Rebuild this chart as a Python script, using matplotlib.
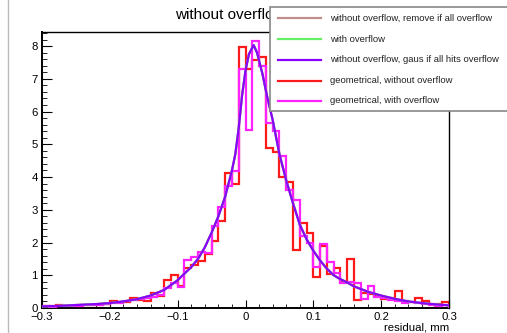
import numpy as np
import matplotlib.pyplot as plt
from matplotlib.patches import Rectangle
from matplotlib.lines import Line2D
from matplotlib.ticker import MultipleLocator

plt.rcParams['font.family'] = ['Liberation Sans', 'DejaVu Sans']

# histogram bins: 60 bins of 0.01 from -0.3 to 0.3
edges = np.linspace(-0.3, 0.3, 61)

geo_no_ovf = [0.05, 0.05, 0.10, 0.07, 0.06, 0.10, 0.08, 0.08, 0.10, 0.12,
              0.22, 0.17, 0.17, 0.32, 0.25, 0.20, 0.46, 0.36, 0.87, 1.00,
              0.66, 1.22, 1.31, 1.45, 1.65, 2.04, 2.66, 4.13, 3.80, 7.96,
              7.29, 7.57, 7.66, 4.88, 4.77, 4.00, 3.86, 1.76, 2.60, 2.29,
              0.94, 1.90, 1.04, 1.21, 0.80, 1.49, 0.25, 0.45, 0.42, 0.38,
              0.28, 0.30, 0.52, 0.20, 0.17, 0.30, 0.20, 0.12, 0.13, 0.17]

geo_ovf = [0.05, 0.04, 0.05, 0.06, 0.07, 0.07, 0.08, 0.09, 0.10, 0.13,
           0.15, 0.15, 0.20, 0.25, 0.28, 0.30, 0.35, 0.40, 0.60, 0.77,
           0.65, 1.47, 1.55, 1.72, 1.68, 2.49, 3.08, 3.73, 4.17, 7.30,
           5.43, 8.16, 7.40, 5.64, 5.41, 4.63, 3.60, 3.30, 2.20, 2.00,
           1.25, 1.95, 1.40, 1.06, 0.75, 0.80, 0.77, 0.27, 0.67, 0.35,
           0.30, 0.25, 0.22, 0.15, 0.18, 0.15, 0.12, 0.10, 0.07, 0.08]

# smooth fit curves
fit_x = [-0.30, -0.28, -0.26, -0.24, -0.22, -0.20, -0.18, -0.16, -0.14, -0.12,
         -0.10, -0.09, -0.08, -0.07, -0.06, -0.05, -0.04, -0.03, -0.02, -0.015,
         -0.01, -0.005, 0.0, 0.005, 0.012, 0.017, 0.025, 0.032, 0.04, 0.05,
         0.06, 0.07, 0.08, 0.09, 0.10, 0.11, 0.12, 0.13, 0.14, 0.15,
         0.16, 0.18, 0.20, 0.22, 0.24, 0.26, 0.28, 0.30]
fit_y = [0.05, 0.06, 0.08, 0.10, 0.12, 0.15, 0.20, 0.27, 0.38, 0.55,
         0.85, 1.05, 1.25, 1.50, 1.85, 2.30, 2.80, 3.40, 4.20, 4.70,
         5.50, 6.50, 7.25, 7.75, 8.03, 7.80, 7.15, 6.45, 5.75, 4.70,
         3.90, 3.20, 2.55, 2.10, 1.75, 1.45, 1.20, 1.00, 0.88, 0.78,
         0.66, 0.50, 0.38, 0.28, 0.20, 0.15, 0.11, 0.08]

labels = ['without overflow, remove if all overflow',
          'with overflow',
          'without overflow, gaus if all hits overflow',
          'geometrical, without overflow',
          'geometrical, with overflow']
colors = ['#c08c8c', '#66ee66', '#8a00ff', '#ff1a1a', '#ff22ff']

W, H = 507, 333
fig = plt.figure(figsize=(W / 100, H / 100), dpi=100)
ax = fig.add_axes([42 / W, 1 - 308 / H, (449 - 42) / W, (308 - 32) / H])

ax.stairs(geo_no_ovf, edges, color=colors[3], lw=1.6, zorder=2)
ax.stairs(geo_ovf, edges, color=colors[4], lw=1.6, zorder=3)
ax.plot(fit_x, fit_y, color=colors[0], lw=1.5, zorder=4)
ax.plot(fit_x, fit_y, color=colors[1], lw=1.5, zorder=5)
ax.plot(fit_x, fit_y, color=colors[2], lw=1.6, zorder=6)

ax.set_xlim(-0.3, 0.3)
ax.set_ylim(0, 8.43)
ax.xaxis.set_major_locator(MultipleLocator(0.1))
ax.xaxis.set_minor_locator(MultipleLocator(0.02))
ax.yaxis.set_major_locator(MultipleLocator(1))
ax.yaxis.set_minor_locator(MultipleLocator(0.2))
ax.set_xticks([-0.3, -0.2, -0.1, 0, 0.1, 0.2, 0.3])
ax.set_xticklabels(['\u22120.3', '\u22120.2', '\u22120.1', '0', '0.1', '0.2', '0.3'])
ax.tick_params(which='both', direction='in', labelsize=8.2, colors='black')
ax.tick_params(axis='x', which='major', length=5.8, pad=3)
ax.tick_params(axis='x', which='minor', length=2.9)
ax.tick_params(axis='y', which='major', length=7.2, pad=3)
ax.tick_params(axis='y', which='minor', length=3.6)
for s in ax.spines.values():
    s.set_linewidth(1.0)
ax.spines['left'].set_linewidth(1.4)
ax.spines['bottom'].set_linewidth(1.4)

fig.text(449 / W, 1 - 328 / H, 'residual, mm', ha='right', va='center', fontsize=8.2)
fig.text(175 / W, 1 - 15 / H, 'without overflow', ha='left', va='center', fontsize=11, zorder=1)

# canvas frame line on the left
fig.add_artist(Line2D([7.5 / W, 7.5 / W], [0, 1], color='#bbbbbb', lw=1.0))

# legend box, drawn ROOT-style
box = Rectangle((270 / W, 1 - 111 / H), 260 / W, 104 / H, transform=fig.transFigure,
                facecolor='white', edgecolor='#888888', lw=1.2, zorder=10)
fig.add_artist(box)
rows = [18.3, 39.3, 60.0, 80.5, 101.0]
for lab, col, ry in zip(labels, colors, rows):
    fig.add_artist(Line2D([278 / W, 321 / W], [1 - ry / H, 1 - ry / H],
                          color=col, lw=1.6, zorder=11))
    fig.text(330 / W, 1 - ry / H, lab, ha='left', va='center', fontsize=6.8,
             color='#222222', zorder=12)

fig.savefig('out.png', dpi=100)
